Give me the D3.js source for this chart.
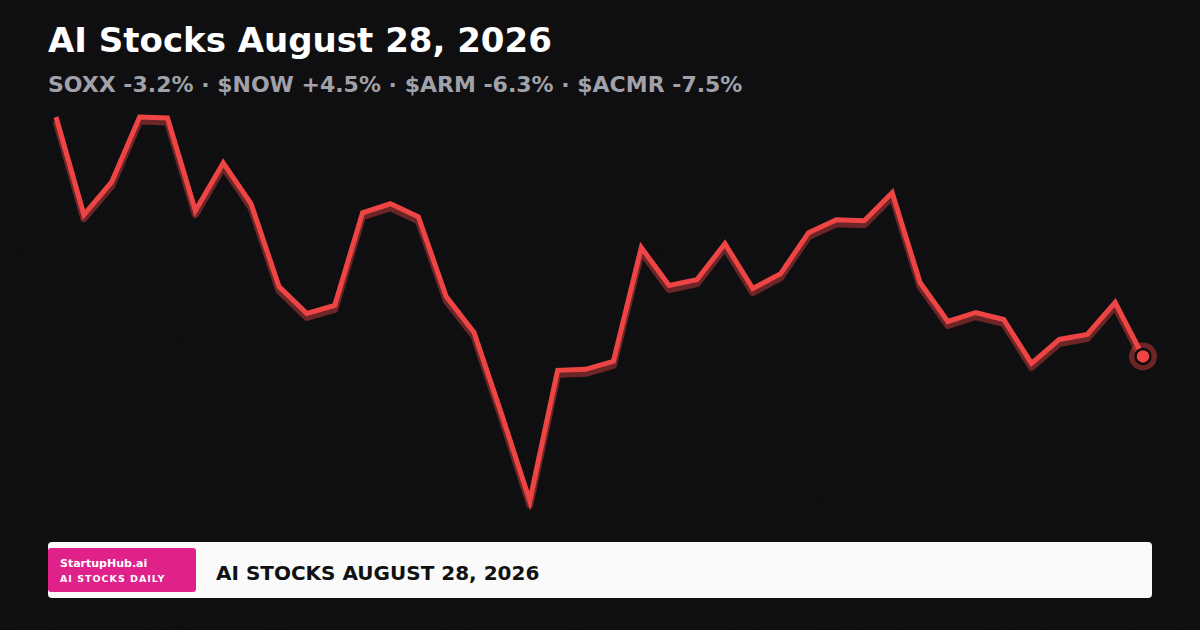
<!DOCTYPE html>
<html>
<head>
<meta charset="utf-8">
<script src="https://cdn.jsdelivr.net/npm/d3@7"></script>
<style>
  html, body { margin: 0; padding: 0; background: #111113; }
  svg { display: block; font-family: "DejaVu Sans", sans-serif; }
</style>
</head>
<body>
<svg id="chart"></svg>
<script>
(function () {
  "use strict";

  // chart text
  var title = "AI Stocks August 28, 2026";
  var tickers = ["SOXX -3.2%", "$NOW +4.5%", "$ARM -6.3%", "$ACMR -7.5%"];
  var badgeLines = ["StartupHub.ai", "AI STOCKS DAILY"];
  var bannerText = "AI STOCKS AUGUST 28, 2026";

  // index level, one value per session
  var values = [
    138.5, 128.7, 132.0, 138.5, 138.4, 129.1, 133.9, 129.8, 121.5, 118.8,
    119.6, 128.9, 129.8, 128.5, 120.5, 116.9, 108.6, 100.0, 113.1, 113.2,
    114.0, 125.4, 121.6, 122.2, 125.8, 121.3, 122.8, 126.9, 128.2, 128.1,
    130.9, 121.9, 118.0, 118.9, 118.2, 113.8, 116.2, 116.7, 119.9, 114.5
  ];

  var W = 1200, H = 630;
  var RED = "#ef4444";

  var svg = d3.select("#chart").attr("width", W).attr("height", H);

  // background with a faint grain
  var defs = svg.append("defs");
  var grain = defs.append("filter").attr("id", "grain")
      .attr("x", 0).attr("y", 0).attr("width", "100%").attr("height", "100%");
  grain.append("feTurbulence").attr("type", "fractalNoise")
      .attr("baseFrequency", 0.9).attr("numOctaves", 2).attr("seed", 3);
  grain.append("feColorMatrix").attr("type", "saturate").attr("values", 0);

  svg.append("rect").attr("width", W).attr("height", H).attr("fill", "#0b0b0d");
  svg.append("rect").attr("width", W).attr("height", H)
      .attr("filter", "url(#grain)").attr("opacity", 0.05);

  // header
  svg.append("text")
      .attr("x", 48).attr("y", 52)
      .attr("fill", "#ffffff")
      .attr("font-size", 34).attr("font-weight", "bold")
      .text(title);

  svg.append("text")
      .attr("x", 48).attr("y", 92)
      .attr("fill", "#a1a1aa")
      .attr("font-size", 22).attr("font-weight", "bold")
      .text(tickers.join(" · "));

  // scales
  var x = d3.scaleLinear().domain([0, values.length - 1]).range([56, 1143]);
  var y = d3.scaleLinear().domain(d3.extent(values)).range([501, 117]);

  var line = d3.line()
      .x(function (d, i) { return x(i); })
      .y(function (d) { return y(d); })
      .curve(d3.curveLinear);

  // shadow under the line
  svg.append("path")
      .datum(values)
      .attr("d", line)
      .attr("transform", "translate(0,4)")
      .attr("fill", "none")
      .attr("stroke", RED)
      .attr("stroke-opacity", 0.42)
      .attr("stroke-width", 7)
      .attr("stroke-linejoin", "round");

  svg.append("path")
      .datum(values)
      .attr("d", line)
      .attr("fill", "none")
      .attr("stroke", RED)
      .attr("stroke-width", 5)
      .attr("stroke-linejoin", "miter")
      .attr("stroke-linecap", "butt");

  // last point marker
  var last = values.length - 1;
  svg.append("circle")
      .attr("cx", x(last)).attr("cy", y(values[last]))
      .attr("r", 14)
      .attr("fill", RED).attr("fill-opacity", 0.42);
  svg.append("circle")
      .attr("cx", x(last)).attr("cy", y(values[last]))
      .attr("r", 7.5)
      .attr("fill", RED)
      .attr("stroke", "#0b0b0d").attr("stroke-width", 2.5);

  // footer banner
  var banner = svg.append("g");
  banner.append("rect")
      .attr("x", 48).attr("y", 542).attr("width", 1104).attr("height", 56)
      .attr("rx", 4).attr("fill", "#fafafa");
  banner.append("rect")
      .attr("x", 48).attr("y", 548).attr("width", 148).attr("height", 44)
      .attr("rx", 3).attr("fill", "#e0218a");
  banner.append("text")
      .attr("x", 60).attr("y", 567)
      .attr("fill", "#ffffff").attr("font-size", 11).attr("font-weight", "bold")
      .text(badgeLines[0]);
  banner.append("text")
      .attr("x", 60).attr("y", 582)
      .attr("fill", "#ffffff").attr("font-size", 9.5).attr("font-weight", "bold")
      .attr("letter-spacing", 1)
      .text(badgeLines[1]);
  banner.append("text")
      .attr("x", 216).attr("y", 580)
      .attr("fill", "#111111").attr("font-size", 20).attr("font-weight", "bold")
      .text(bannerText);
}());
</script>
</body>
</html>
